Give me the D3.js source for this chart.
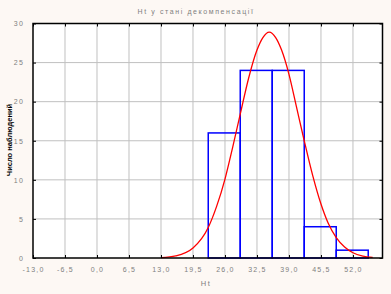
<!DOCTYPE html>
<html>
<head>
<meta charset="utf-8">
<script src="https://cdn.jsdelivr.net/npm/d3@7"></script>
<style>
  body { margin: 0; background: #fdf8f4; }
  svg { display: block; }
  text { font-family: 'Liberation Sans Narrow', 'Arial Narrow', sans-serif; }
</style>
</head>
<body>
<svg id="chart" width="391" height="294"></svg>
<script>
// Гістограма: межі інтервалів та кількість спостережень
const binStarts = [22.6, 29.1, 35.6, 42.1, 48.6];
const binWidth = 6.5;
const counts = [16, 24, 24, 4, 1];

// Крива нормального розподілу
const curveX = [13, 16, 19.5, 22.6, 24.3, 26, 27.5, 29.1, 30.8, 32.5, 33.7, 35, 36.3, 37.5, 39, 40.5, 42.1, 43.8, 45.5, 47, 48.6, 50.3, 52, 54, 56];
const curveY = [0.05, 0.27, 1.27, 3.9, 6.6, 10.1, 14.0, 18.4, 23.0, 26.6, 28.2, 28.9, 28.2, 26.6, 23.5, 19.4, 15.0, 10.6, 6.9, 4.4, 2.6, 1.4, 0.67, 0.25, 0.07];

// Підписи осей
const xTicks = [-13, -6.5, 0, 6.5, 13, 19.5, 26, 32.5, 39, 45.5, 52];
const yTicks = [0, 5, 10, 15, 20, 25, 30];
const title = 'Нt у стані декомпенсації';
const xLabel = 'Нt';
const yLabel = 'Число наблюдений';

const svg = d3.select('#chart');
const W = 391, H = 294;
const m = { left: 33, top: 23.5, right: 8.5, bottom: 36 };

const x = d3.scaleLinear().domain([-13, 58]).range([m.left, W - m.right]);
const y = d3.scaleLinear().domain([0, 30]).range([H - m.bottom, m.top]);

// білий фон області графіка
svg.append('rect')
  .attr('x', m.left).attr('y', m.top)
  .attr('width', W - m.left - m.right).attr('height', H - m.top - m.bottom)
  .attr('fill', '#fff');

// сітка
svg.append('g').selectAll('line').data(xTicks.slice(1)).enter().append('line')
  .attr('x1', d => x(d)).attr('x2', d => x(d))
  .attr('y1', m.top).attr('y2', H - m.bottom)
  .attr('stroke', '#c0c0c0').attr('stroke-width', 1);
svg.append('g').selectAll('line').data(yTicks.slice(1, -1)).enter().append('line')
  .attr('y1', d => y(d)).attr('y2', d => y(d))
  .attr('x1', m.left).attr('x2', W - m.right)
  .attr('stroke', '#c0c0c0').attr('stroke-width', 1);

// стовпчики
svg.append('g').selectAll('rect').data(binStarts).enter().append('rect')
  .attr('x', d => x(d))
  .attr('y', (d, i) => y(counts[i]))
  .attr('width', d => x(d + binWidth) - x(d))
  .attr('height', (d, i) => y(0) - y(counts[i]))
  .attr('fill', 'none')
  .attr('stroke', '#0000ff')
  .attr('stroke-width', 1.5);

// крива
const pts = curveX.map((v, i) => [v, curveY[i]]);
svg.append('path')
  .datum(pts)
  .attr('d', d3.line().x(d => x(d[0])).y(d => y(d[1])).curve(d3.curveMonotoneX))
  .attr('fill', 'none')
  .attr('stroke', '#ff0000')
  .attr('stroke-width', 1.3);

// осі
const fmt = d => d3.format('.1f')(d).replace('.', ',').replace('−', '-');
const tickStyle = g => {
  g.select('.domain').remove();
  g.selectAll('text')
    .attr('fill', '#808080')
    .attr('font-size', 7)
    .attr('letter-spacing', 1.2);
  g.selectAll('line').attr('stroke', '#000');
};

svg.append('g')
  .attr('transform', `translate(0,${H - m.bottom})`)
  .call(d3.axisBottom(x).tickValues(xTicks).tickFormat(fmt).tickSizeInner(-3).tickSizeOuter(0).tickPadding(9))
  .call(tickStyle);
svg.append('g')
  .attr('transform', `translate(0,${m.top})`)
  .call(d3.axisTop(x).tickValues(xTicks).tickFormat('').tickSizeInner(-3).tickSizeOuter(0))
  .call(tickStyle);
svg.append('g')
  .attr('transform', `translate(${m.left},0)`)
  .call(d3.axisLeft(y).tickValues(yTicks).tickFormat(d3.format('d')).tickSizeInner(-3).tickSizeOuter(0).tickPadding(9))
  .call(tickStyle);
svg.append('g')
  .attr('transform', `translate(${W - m.right},0)`)
  .call(d3.axisRight(y).tickValues(yTicks).tickFormat('').tickSizeInner(-3).tickSizeOuter(0))
  .call(tickStyle);

// рамка
svg.append('rect')
  .attr('x', m.left).attr('y', m.top)
  .attr('width', W - m.left - m.right).attr('height', H - m.top - m.bottom)
  .attr('fill', 'none').attr('stroke', '#000').attr('stroke-width', 1.5);

// заголовок і підписи
svg.append('text')
  .attr('x', 196).attr('y', 14)
  .attr('text-anchor', 'middle')
  .attr('font-size', 7).attr('letter-spacing', 1.6)
  .attr('fill', '#808080')
  .text(title);

svg.append('text')
  .attr('x', 206).attr('y', 286)
  .attr('text-anchor', 'middle')
  .attr('font-size', 7.5).attr('letter-spacing', 1.5)
  .attr('fill', '#808080')
  .text(xLabel);

svg.append('text')
  .attr('transform', 'translate(12,140) rotate(-90)')
  .attr('text-anchor', 'middle')
  .attr('font-size', 7.5).attr('font-weight', 'bold')
  .attr('fill', '#000')
  .text(yLabel);
</script>
</body>
</html>
